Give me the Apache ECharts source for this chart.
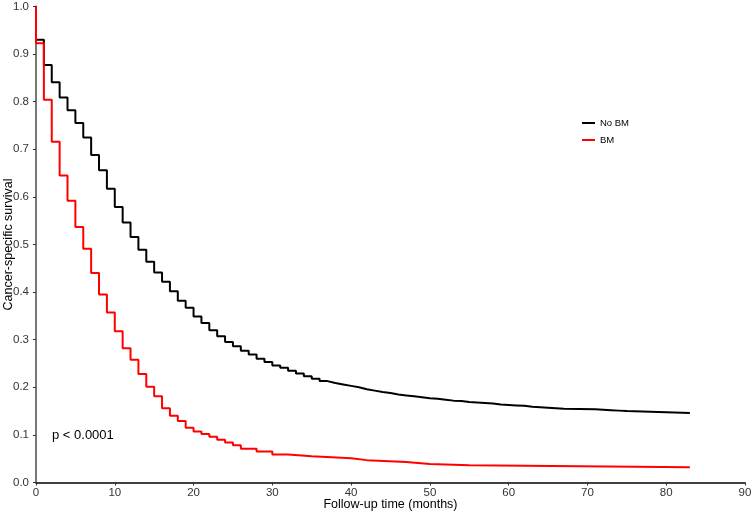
<!DOCTYPE html>
<html>
<head>
    <meta charset="UTF-8">
    <title></title>
    <style type="text/css">
        body { margin: 0; background: #fff; }
    </style>
</head>
<body>
<div id='mychart' style="width: 753px;height:513px;"></div>
<script src='https://cdn.jsdelivr.net/npm/echarts@6/dist/echarts.min.js'></script>
<script>
    // months at which the curve steps down, and the survival from that month on
    var timesNoBM = [0, 0, 1, 2, 3, 4, 5, 6, 7, 8, 9, 10, 11, 12, 13, 14, 15, 16, 17, 18, 19, 20,
        21, 22, 23, 24, 25, 26, 27, 28, 29, 30, 31, 32, 33, 34, 35, 36, 37, 38, 39, 40,
        41, 42, 43, 44, 45, 46, 47, 48, 49, 50, 51, 52, 53, 54, 55, 56, 57, 58, 59, 60,
        61, 62, 63, 64, 65, 66, 67, 71, 72, 73, 74, 75, 77, 79, 83];
    var survNoBM = [1.0, 0.930, 0.877, 0.841, 0.809, 0.782, 0.755, 0.725, 0.688, 0.656, 0.617, 0.579,
        0.546, 0.516, 0.489, 0.464, 0.441, 0.422, 0.402, 0.382, 0.367, 0.349,
        0.335, 0.320, 0.307, 0.295, 0.286, 0.277, 0.269, 0.260, 0.253, 0.246,
        0.241, 0.235, 0.229, 0.223, 0.218, 0.213, 0.209, 0.206, 0.203, 0.200,
        0.196, 0.193, 0.190, 0.188, 0.185, 0.183, 0.181, 0.179, 0.177, 0.176,
        0.174, 0.172, 0.171, 0.169, 0.168, 0.167, 0.166, 0.164, 0.163, 0.162,
        0.161, 0.159, 0.158, 0.157, 0.156, 0.155, 0.154, 0.153, 0.152, 0.151,
        0.150, 0.149, 0.148, 0.146, 0.146];

    var timesBM = [0, 0, 1, 2, 3, 4, 5, 6, 7, 8, 9, 10, 11, 12, 13, 14, 15, 16, 17, 18, 19, 20,
        21, 22, 23, 24, 25, 26, 28, 30, 32, 35, 40, 42, 47, 50, 55, 83];
    var survBM = [1.0, 0.923, 0.804, 0.716, 0.645, 0.592, 0.537, 0.491, 0.440, 0.395, 0.357, 0.318,
        0.282, 0.258, 0.228, 0.201, 0.181, 0.156, 0.140, 0.129, 0.115, 0.107,
        0.102, 0.096, 0.090, 0.084, 0.078, 0.071, 0.065, 0.059, 0.055, 0.051,
        0.047, 0.043, 0.039, 0.036, 0.032, 0.032];

    var groupNames = ['No BM', 'BM'];
    var groupColors = ['#000000', '#ff0000'];

    function pairs(t, s) {
        var res = [];
        for (var i = 0; i < t.length; i++) {
            res.push([t[i], s[i]]);
        }
        return res;
    }

    var myChart = echarts.init(document.getElementById('mychart'));

    var option = {
        animation: false,
        grid: {left: 36, right: 8, top: 6.5, bottom: 30.5, containLabel: false, outerBoundsMode: 'none'},
        legend: {
            data: groupNames,
            orient: 'vertical',
            left: 577,
            top: 113,
            icon: 'rect',
            itemWidth: 13,
            itemHeight: 2,
            itemGap: 7,
            textStyle: {fontSize: 9.5, color: '#000', fontFamily: 'Liberation Sans'}
        },
        xAxis: {
            type: 'value',
            min: 0,
            max: 90,
            interval: 10,
            name: 'Follow-up time (months)',
            nameLocation: 'middle',
            nameGap: 16,
            nameMoveOverlap: false,
            nameTextStyle: {fontSize: 12.5, color: '#000', fontFamily: 'Liberation Sans'},
            axisLine: {lineStyle: {color: '#000', width: 1.5}},
            axisTick: {length: 3, lineStyle: {color: '#333'}},
            axisLabel: {fontSize: 11.5, color: '#333', margin: 4, fontFamily: 'Liberation Sans'},
            splitLine: {show: false}
        },
        yAxis: {
            type: 'value',
            min: 0,
            max: 1,
            interval: 0.1,
            name: 'Cancer-specific survival',
            nameLocation: 'middle',
            nameGap: 21,
            nameMoveOverlap: false,
            nameTextStyle: {fontSize: 12.5, color: '#000', fontFamily: 'Liberation Sans'},
            axisLine: {show: true, lineStyle: {color: '#777', width: 2}},
            axisTick: {show: true, length: 3, lineStyle: {color: '#333'}},
            axisLabel: {
                fontSize: 11.5, color: '#333', margin: 7, fontFamily: 'Liberation Sans',
                formatter: function (v) { return v.toFixed(1); }
            },
            splitLine: {show: false}
        },
        graphic: [{
            type: 'text',
            left: 52,
            top: 429,
            style: {text: 'p < 0.0001', fontSize: 13, fill: '#000', fontFamily: 'Liberation Sans'}
        }],
        series: [
            {
                name: groupNames[0],
                type: 'line',
                step: 'end',
                showSymbol: false,
                data: pairs(timesNoBM, survNoBM),
                lineStyle: {color: groupColors[0], width: 2},
                itemStyle: {color: groupColors[0]}
            },
            {
                name: groupNames[1],
                type: 'line',
                step: 'end',
                showSymbol: false,
                data: pairs(timesBM, survBM),
                lineStyle: {color: groupColors[1], width: 2},
                itemStyle: {color: groupColors[1]}
            }
        ]
    };

    myChart.setOption(option);
</script>
</body>
</html>
